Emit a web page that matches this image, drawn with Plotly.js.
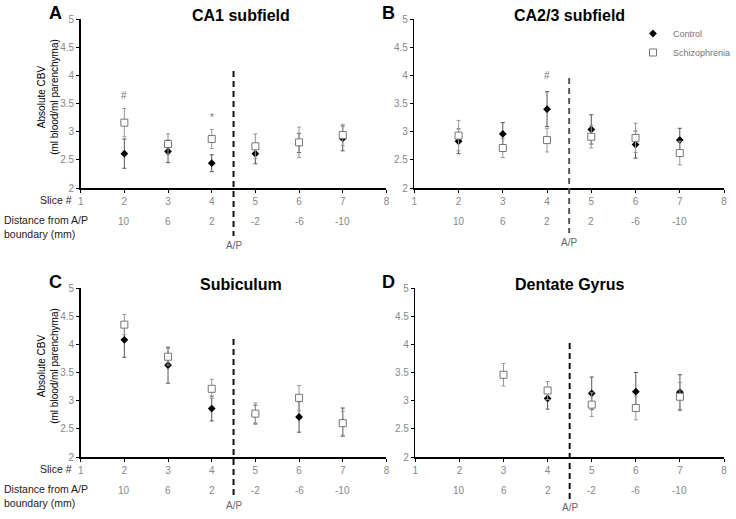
<!DOCTYPE html>
<html>
<head>
<meta charset="utf-8">
<script src="https://cdn.plot.ly/plotly-3.0.1.min.js"></script>
<style>html,body{margin:0;padding:0;background:#fff;}#chart{width:736px;height:519px;}</style>
</head>
<body>
<div id="chart"></div>
<script>
// ---- data ----
var slices = [2, 3, 4, 5, 6, 7];
var distanceLabels = ["10", "6", "2", "-2", "-6", "-10"];
var distanceLabelsB = ["10", "6", "2", "2", "-6", "-10"];
var panelTitles = ["CA1 subfield", "CA2/3 subfield", "Subiculum", "Dentate Gyrus"];
var panelLetters = ["A", "B", "C", "D"];
var seriesNames = ["Control", "Schizophrenia"];

var ca1Control = [2.61, 2.65, 2.44, 2.61, 2.80, 2.88];
var ca1ControlErr = [0.26, 0.20, 0.15, 0.18, 0.17, 0.22];
var ca1Schizo = [3.16, 2.78, 2.87, 2.74, 2.81, 2.94];
var ca1SchizoErr = [0.25, 0.18, 0.17, 0.22, 0.27, 0.19];

var ca23Control = [2.83, 2.96, 3.40, 3.04, 2.77, 2.85];
var ca23ControlErr = [0.22, 0.20, 0.31, 0.26, 0.24, 0.21];
var ca23Schizo = [2.93, 2.71, 2.85, 2.91, 2.89, 2.62];
var ca23SchizoErr = [0.27, 0.17, 0.21, 0.20, 0.26, 0.21];

var subControl = [4.08, 3.63, 2.86, 2.76, 2.71, 2.62];
var subControlErr = [0.31, 0.32, 0.22, 0.16, 0.27, 0.25];
var subSchizo = [4.35, 3.78, 3.21, 2.77, 3.05, 2.60];
var subSchizoErr = [0.18, 0.15, 0.17, 0.19, 0.22, 0.21];

var dgControl = [null, null, 3.04, 3.13, 3.16, 3.15];
var dgControlErr = [null, null, 0.19, 0.29, 0.34, 0.31];
var dgSchizo = [null, 3.46, 3.18, 2.93, 2.87, 3.07];
var dgSchizoErr = [null, 0.20, 0.16, 0.21, 0.21, 0.25];

// significance marks
var sigSlices = [2, 4, 4];
var sigValues = [3.65, 3.25, 3.99];
var sigSymbols = ["#", "*", "#"];
var sigPanels = [0, 0, 1];

// ---- build ----
var W = 736, H = 519;
var FONT = "Liberation Sans, Arial, sans-serif";
var panels = [
  {ctrl: ca1Control, ctrlErr: ca1ControlErr, sch: ca1Schizo, schErr: ca1SchizoErr, dist: distanceLabels,
   px: [81, 388], py: [19, 188], dash: [71, 236], dashColor: "#111", ap: 245},
  {ctrl: ca23Control, ctrlErr: ca23ControlErr, sch: ca23Schizo, schErr: ca23SchizoErr, dist: distanceLabelsB,
   px: [416, 727], py: [19, 188], dash: [78, 233], dashColor: "#555", ap: 242},
  {ctrl: subControl, ctrlErr: subControlErr, sch: subSchizo, schErr: subSchizoErr, dist: distanceLabels,
   px: [81, 388], py: [288, 457], dash: [339, 498], dashColor: "#111", ap: 505},
  {ctrl: dgControl, ctrlErr: dgControlErr, sch: dgSchizo, schErr: dgSchizoErr, dist: distanceLabels,
   px: [417, 727], py: [288, 457], dash: [343, 500], dashColor: "#111", ap: 507}
];
function fx(p) { return p / W; }
function fy(p) { return 1 - p / H; }

var traces = [];
var layout = {
  width: W, height: H,
  margin: {l: 0, r: 0, t: 0, b: 0},
  paper_bgcolor: "#fff", plot_bgcolor: "#fff",
  font: {family: FONT, color: "#777", size: 9},
  showlegend: true,
  legend: {x: fx(636), y: fy(19), xanchor: "left", yanchor: "top",
           font: {family: FONT, size: 9, color: "#777"}, bgcolor: "rgba(0,0,0,0)",
           tracegroupgap: 0, itemwidth: 30, itemclick: false},
  annotations: [], shapes: []
};

panels.forEach(function (p, i) {
  var n = i + 1;
  var xa = "x" + (n === 1 ? "" : n), ya = "y" + (n === 1 ? "" : n);
  traces.push({
    type: "scatter", mode: "markers", x: slices, y: p.ctrl, xaxis: xa, yaxis: ya,
    name: seriesNames[0], legendgroup: "c", showlegend: i === 1,
    marker: {symbol: "diamond", size: 6, color: "#000"},
    error_y: {type: "data", array: p.ctrlErr, visible: true, color: "#555", thickness: 1, width: 2}
  });
  traces.push({
    type: "scatter", mode: "markers", x: slices, y: p.sch, xaxis: xa, yaxis: ya,
    name: seriesNames[1], legendgroup: "s", showlegend: i === 1,
    marker: {symbol: "square", size: 7, color: "#fff", line: {color: "#777", width: 1}},
    error_y: {type: "data", array: p.schErr, visible: true, color: "#999", thickness: 1, width: 2}
  });
  var axX = {
    domain: [fx(p.px[0]), fx(p.px[1])], range: [1, 8], anchor: ya,
    tickmode: "array", tickvals: [1, 2, 3, 4, 5, 6, 7, 8],
    ticks: "outside", ticklen: 3, tickcolor: "#000", showgrid: false, zeroline: false,
    showline: true, linecolor: "#000", linewidth: 1.5,
    tickfont: {family: FONT, size: 10, color: "#888"}, fixedrange: true
  };
  var axY = {
    domain: [fy(p.py[1]), fy(p.py[0])], range: [2, 5], anchor: xa,
    tickvals: [2, 2.5, 3, 3.5, 4, 4.5, 5], ticktext: ["2", "2.5", "3", "3.5", "4", "4.5", "5"],
    ticks: "outside", ticklen: 3, tickcolor: "#000", showgrid: false, zeroline: false,
    showline: true, linecolor: "#000", linewidth: 1.5,
    tickfont: {family: FONT, size: 10, color: "#888"}, fixedrange: true
  };
  layout["xaxis" + (n === 1 ? "" : n)] = axX;
  layout["yaxis" + (n === 1 ? "" : n)] = axY;

  p.dist.forEach(function (d, k) {
    layout.annotations.push({xref: xa, yref: "paper", x: slices[k], y: fy(p.py[1] + 33),
      text: d, showarrow: false, font: {family: FONT, size: 10, color: "#888"},
      xanchor: "center", yanchor: "middle"});
  });
  layout.shapes.push({type: "line", xref: xa, yref: "paper", x0: 4.5, x1: 4.5,
    y0: fy(p.dash[0]), y1: fy(p.dash[1]), line: {color: p.dashColor, width: 2, dash: "6px,4px"}});
  layout.annotations.push({xref: xa, yref: "paper", x: 4.5, y: fy(p.ap), text: "A/P",
    showarrow: false, font: {family: FONT, size: 10, color: "#666"}, xanchor: "center", yanchor: "middle"});
  layout.annotations.push({xref: "paper", yref: "paper", x: fx(i % 2 === 0 ? 242 : 572),
    y: fy(p.py[0] - 4), text: "<b>" + panelTitles[i] + "</b>", showarrow: false,
    font: {family: FONT, size: 16, color: "#000"}, xanchor: "center", yanchor: "middle"});
  layout.annotations.push({xref: "paper", yref: "paper", x: fx(i % 2 === 0 ? 56 : 390),
    y: fy(p.py[0] - 6), text: "<b>" + panelLetters[i] + "</b>", showarrow: false,
    font: {family: FONT, size: 18, color: "#000"}, xanchor: "center", yanchor: "middle"});
  if (i % 2 === 0) {
    layout.annotations.push({xref: "paper", yref: "paper", x: fx(48), y: fy(p.py[0] + 78),
      text: "Absolute CBV<br>(ml blood/ml parenchyma)", textangle: -90, showarrow: false,
      font: {family: FONT, size: 10, color: "#000"}, align: "center",
      xanchor: "center", yanchor: "middle"});
    layout.annotations.push({xref: "paper", yref: "paper", x: fx(74), y: fy(p.py[1] + 12),
      text: "Slice #", showarrow: false, xanchor: "right",
      font: {family: FONT, size: 10.5, color: "#222"}, yanchor: "middle"});
    layout.annotations.push({xref: "paper", yref: "paper", x: fx(2), y: fy(p.py[1] + 39),
      text: "Distance from A/P<br>boundary (mm)", showarrow: false, xanchor: "left", align: "left",
      font: {family: FONT, size: 10.5, color: "#222"}, yanchor: "middle"});
  }
});

sigSlices.forEach(function (s, k) {
  var n = sigPanels[k] + 1;
  layout.annotations.push({xref: "x" + (n === 1 ? "" : n), yref: "y" + (n === 1 ? "" : n),
    x: s, y: sigValues[k], text: sigSymbols[k], showarrow: false,
    font: {family: FONT, size: 10, color: "#777"}, xanchor: "center", yanchor: "middle"});
});

Plotly.newPlot("chart", traces, layout, {displayModeBar: false, staticPlot: true});
</script>
</body>
</html>
